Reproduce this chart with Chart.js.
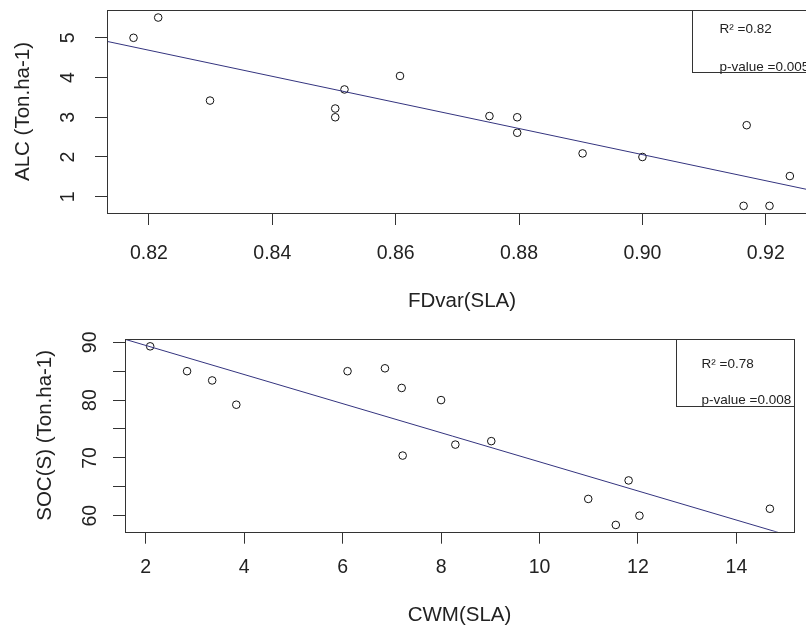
<!DOCTYPE html>
<html>
<head>
<meta charset="utf-8">
<script src="https://cdn.jsdelivr.net/npm/chart.js@4"></script>
<style>
  html, body { margin: 0; padding: 0; background: #fff; overflow: hidden; }
  #wrap { width: 806px; height: 628px; overflow: hidden; position: relative; }
  canvas { display: block; }
</style>
</head>
<body>
<div id="wrap">
  <canvas id="topChart" width="830" height="314"></canvas>
  <canvas id="bottomChart" width="806" height="314"></canvas>
</div>
<script>
// Top panel: ALC vs FDvar(SLA)
const alcX = [0.8175, 0.8215, 0.8299, 0.8502, 0.8502, 0.8517, 0.8607, 0.8752,
              0.8797, 0.8797, 0.8903, 0.9000, 0.9169, 0.9239, 0.9164, 0.9206];
const alcY = [5.00, 5.51, 3.42, 3.22, 3.00, 3.70, 4.04, 3.03,
              3.00, 2.61, 2.09, 2.00, 2.80, 1.52, 0.77, 0.77];
const alcFitX = [0.8132, 0.9283];
const alcFitY = [4.91, 1.13];
const alcXTicks = [0.82, 0.84, 0.86, 0.88, 0.90, 0.92];
const alcYTicks = [1, 2, 3, 4, 5];
const alcLegend = ['R\u00b2 =0.82', 'p-value =0.005'];

// Bottom panel: SOC(S) vs CWM(SLA)
const socX = [2.09, 2.84, 3.35, 3.84, 6.10, 6.86, 7.20, 7.22,
              8.00, 8.29, 9.02, 10.99, 11.81, 11.55, 12.03, 14.68];
const socY = [89.3, 85.0, 83.4, 79.2, 85.0, 85.5, 82.1, 70.4,
              80.0, 72.3, 72.9, 62.9, 66.1, 58.4, 60.0, 61.2];
const socFitX = [1.579, 15.17];
const socFitY = [90.52, 56.30];
const socXTicks = [2, 4, 6, 8, 10, 12, 14];
const socYTicks = [60, 65, 70, 75, 80, 85, 90];
const socLegend = ['R\u00b2 =0.78', 'p-value =0.008'];

const FONT = "'Liberation Sans', Arial, sans-serif";
const INK = '#222';
const LINE = '#34347f';

// box around plot region + R-style legend box in the top right corner
const boxPlugin = {
  id: 'rbox',
  afterDraw(chart, args, opts) {
    const { ctx, chartArea: a } = chart;
    ctx.save();
    ctx.strokeStyle = '#333';
    ctx.lineWidth = 1;
    const l = Math.round(a.left) + 0.5, t = Math.round(a.top) + 0.5;
    const r = Math.round(a.right) + 0.5, b = Math.round(a.bottom) + 0.5;
    ctx.strokeRect(l, t, r - l, b - t);
    // legend
    const lw = opts.width, lh = opts.height;
    const lx = Math.round(a.right - lw) + 0.5;
    const ly = t;
    ctx.fillStyle = '#fff';
    ctx.fillRect(lx, ly, r - lx, lh);
    ctx.strokeRect(lx, ly, r - lx, lh);
    ctx.fillStyle = INK;
    ctx.font = '13.5px ' + FONT;
    ctx.textBaseline = 'middle';
    ctx.textAlign = 'left';
    opts.lines.forEach((txt, i) => {
      ctx.fillText(txt, lx + opts.textDx, ly + opts.lineDy[i]);
    });
    ctx.restore();
  }
};

function makeChart(id, cfg) {
  const pts = cfg.xs.map((x, i) => ({ x: x, y: cfg.ys[i] }));
  const fit = cfg.fitX.map((x, i) => ({ x: x, y: cfg.fitY[i] }));
  const gridOpts = {
    display: true, drawOnChartArea: false, drawTicks: true,
    tickLength: 12, color: '#333', lineWidth: 1
  };
  return new Chart(document.getElementById(id), {
    type: 'scatter',
    data: {
      datasets: [{
        type: 'line',
        data: fit,
        borderColor: LINE,
        borderWidth: 1,
        pointRadius: 0,
        fill: false,
        tension: 0
      }, {
        data: pts,
        pointStyle: 'circle',
        pointRadius: 3.8,
        borderColor: '#111',
        backgroundColor: 'rgba(0,0,0,0)',
        borderWidth: 1
      }]
    },
    options: {
      responsive: false,
      animation: false,
      devicePixelRatio: 1,
      layout: { padding: cfg.padding },
      plugins: {
        legend: { display: false },
        tooltip: { enabled: false },
        rbox: cfg.legend
      },
      scales: {
        x: {
          type: 'linear',
          min: cfg.xMin, max: cfg.xMax,
          border: { display: false },
          grid: gridOpts,
          afterBuildTicks: s => { s.ticks = cfg.xTicks.map(v => ({ value: v })); },
          afterFit: s => {
            s.height = cfg.xAxisH;
            s.paddingLeft = 0; s.paddingRight = 0;
          },
          ticks: {
            color: INK, padding: cfg.xTickPad,
            font: { family: FONT, size: 19.5 },
            maxRotation: 0, minRotation: 0,
            callback: cfg.xFmt
          },
          title: {
            display: true, text: cfg.xTitle, color: INK,
            font: { family: FONT, size: 20.5 },
            padding: { top: 0, bottom: cfg.xTitlePad }
          }
        },
        y: {
          type: 'linear',
          min: cfg.yMin, max: cfg.yMax,
          border: { display: false },
          grid: gridOpts,
          afterBuildTicks: s => { s.ticks = cfg.yTicks.map(v => ({ value: v })); },
          afterFit: s => {
            s.width = cfg.yAxisW;
            s.paddingTop = 0; s.paddingBottom = 0;
          },
          ticks: {
            color: INK, padding: cfg.yTickPad,
            font: { family: FONT, size: 19.5 },
            minRotation: 90, maxRotation: 90,
            crossAlign: 'center',
            callback: cfg.yFmt
          },
          title: {
            display: true, text: cfg.yTitle, color: INK,
            font: { family: FONT, size: 20.5 },
            padding: { top: cfg.yTitlePad, bottom: 0 }
          }
        }
      }
    },
    plugins: [boxPlugin]
  });
}

makeChart('topChart', {
  xs: alcX, ys: alcY, fitX: alcFitX, fitY: alcFitY,
  xTicks: alcXTicks, yTicks: alcYTicks,
  xMin: 0.8132, xMax: 0.9283, yMin: 0.59, yMax: 5.70,
  xFmt: v => Number(v).toFixed(2),
  yFmt: v => String(v),
  xTitle: 'FDvar(SLA)', yTitle: 'ALC (Ton.ha-1)',
  padding: { left: 0, top: 10, right: 13, bottom: 0 },
  xAxisH: 101, yAxisW: 107,
  xTickPad: 17, yTickPad: 21,
  xTitlePad: 0, yTitlePad: 11,
  legend: { width: 125, height: 62, lines: alcLegend, textDx: 27, lineDy: [19, 57] }
});

makeChart('bottomChart', {
  xs: socX, ys: socY, fitX: socFitX, fitY: socFitY,
  xTicks: socXTicks, yTicks: socYTicks,
  xMin: 1.579, xMax: 15.17, yMin: 57.23, yMax: 90.57,
  xFmt: v => String(v),
  yFmt: v => (v % 10 === 0 ? String(v) : ''),
  xTitle: 'CWM(SLA)', yTitle: 'SOC(S) (Ton.ha-1)',
  padding: { left: 0, top: 25, right: 12, bottom: 0 },
  xAxisH: 96.3, yAxisW: 125,
  xTickPad: 12, yTickPad: 12,
  xTitlePad: 0, yTitlePad: 32.8,
  legend: { width: 118, height: 67, lines: socLegend, textDx: 25, lineDy: [25, 61] }
});
</script>
</body>
</html>
